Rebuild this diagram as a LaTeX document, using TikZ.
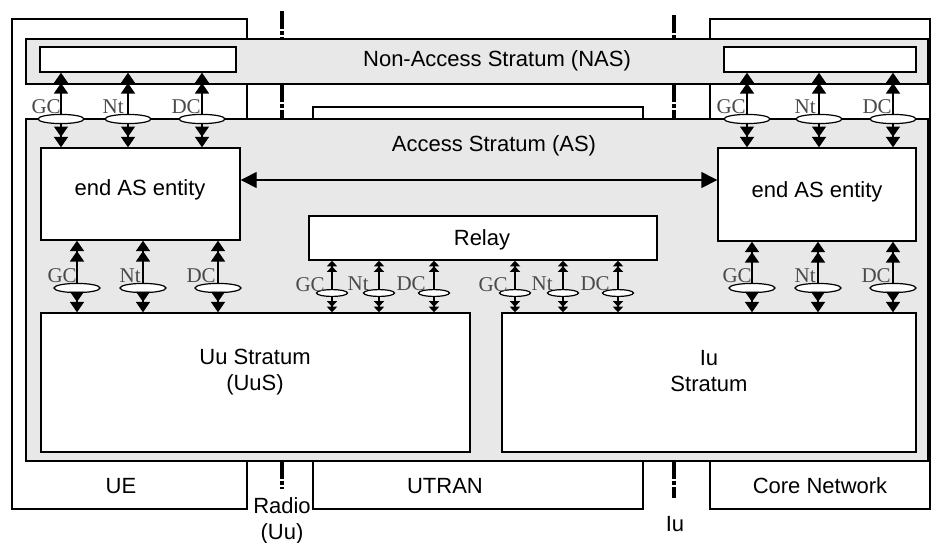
\documentclass[tikz,border=0pt]{standalone}
\usepackage{fontspec}
\setmainfont{Liberation Sans}
\newfontfamily\sapfont{Liberation Serif}
\usetikzlibrary{arrows.meta,shapes.geometric,fit}
\definecolor{strat}{HTML}{E8E8E8}
\definecolor{saptxt}{HTML}{4A4A4A}
\tikzset{
  >={Triangle[length=5.2pt,width=7pt]Triangle[length=5.2pt,width=7pt]},
  sm/.style={>={Triangle[length=2.8pt,width=5pt]Triangle[length=2.8pt,width=5pt]}},
  one/.style={>={Triangle[length=8pt,width=8pt]}},
  box/.style={draw,fill=white,inner sep=0pt},
  lay/.style={box,fill=strat},
  txt/.style={font=\fontsize{11}{13}\selectfont,inner sep=1pt,align=center},
  sap/.style={ellipse,draw,fill=white,minimum width=23pt,minimum height=4.6pt,inner sep=0pt,line width=0.6pt},
  ssap/.style={sap,minimum width=15.5pt,minimum height=3.4pt},
  lbl/.style={font=\sapfont\fontsize{10.5}{11}\selectfont,text=saptxt,inner sep=0.3pt},
  ifc/.style={line width=1.8pt,dash pattern=on 9pt off 1pt on 2pt off 1pt},
  every picture/.style={line width=0.7pt},
}
\begin{document}
\begin{tikzpicture}[x=0.5pt,y=-0.5pt]
\useasboundingbox (0,0) rectangle (933,542);
% domains
\node[box,fit={(12,19) (247,509)}] (UE){}; \node[box,fit={(313,107) (643,509)}] (UTRAN){}; \node[box,fit={(710,19) (930,509)}] (CN){};
\node[txt] (UEt) at (121,486){UE}; \node[txt] (UTRANt) at (445,486){UTRAN}; \node[txt] (CNt) at (820,486){Core Network};
% strata
\node[lay,fit={(26,39) (928,84)}] (NAS){}; \node[txt] (NASt) at (497,61){Non-Access Stratum (NAS)};
\node[box,fit={(40,47) (236,72)}] (NASL){}; \node[box,fit={(724,47) (916,72)}] (NASR){};
\node[lay,fit={(26,119) (928,461)}] (AS){}; \node[txt] (ASt) at (494,146){Access Stratum (AS)};
\node[box,fit={(41,148) (240,240)}] (ENDL){}; \node[txt] (ENDLt) at (140,190){end AS entity};
\node[box,fit={(718,148) (916,241)}] (ENDR){}; \node[txt] (ENDRt) at (817,192){end AS entity};
\node[box,fit={(309,216) (657,260)}] (RELAY){}; \node[txt] (RELAYt) at (482,240){Relay};
\node[box,fit={(41,313) (470,452)}] (UUS){}; \node[txt] (UUSt) at (255,372){Uu Stratum\\(UuS)};
\node[box,fit={(502,313) (916,452)}] (IUS){}; \node[txt] (IUSt) at (709,371){Iu\\Stratum};
% interfaces
\draw[ifc] (282,11)--(282,39); \draw[ifc] (282,84)--(282,119); \draw[ifc] (282,461)--(282,489);
\draw[ifc] (674,15)--(674,39); \draw[ifc] (674,84)--(674,119); \draw[ifc] (674,461)--(674,498);
\node[txt] (RADIOt) at (282,521){Radio\\(Uu)}; \node[txt] (IUt) at (675,524){Iu};
\draw[one,<->] (ENDL.east|-0,180)--(ENDR.west|-0,180);
% SAPs NAS - end AS entity
\node[sap] (A1) at (61,119){}; \node[lbl,anchor=south east] (A1t) at (62,115){GC}; \draw[->] (A1)--(A1|-NASL.south); \draw[->] (A1)--(A1|-ENDL.north);
\node[sap] (A2) at (128,119){}; \node[lbl,anchor=south east] (A2t) at (125,115){Nt}; \draw[->] (A2)--(A2|-NASL.south); \draw[->] (A2)--(A2|-ENDL.north);
\node[sap] (A3) at (202,119){}; \node[lbl,anchor=south east] (A3t) at (202,115){DC}; \draw[->] (A3)--(A3|-NASL.south); \draw[->] (A3)--(A3|-ENDL.north);
\node[sap] (B1) at (747,119){}; \node[lbl,anchor=south east] (B1t) at (747,115){GC}; \draw[->] (B1)--(B1|-NASR.south); \draw[->] (B1)--(B1|-ENDR.north);
\node[sap] (B2) at (819,119){}; \node[lbl,anchor=south east] (B2t) at (817,115){Nt}; \draw[->] (B2)--(B2|-NASR.south); \draw[->] (B2)--(B2|-ENDR.north);
\node[sap] (B3) at (893,119){}; \node[lbl,anchor=south east] (B3t) at (893,115){DC}; \draw[->] (B3)--(B3|-NASR.south); \draw[->] (B3)--(B3|-ENDR.north);
% SAPs end AS entity - Uu / Iu
\node[sap] (C1) at (77,288){}; \node[lbl,anchor=south east] (C1t) at (78,284){GC}; \draw[->] (C1)--(C1|-ENDL.south); \draw[->] (C1)--(C1|-UUS.north);
\node[sap] (C2) at (143,288){}; \node[lbl,anchor=south east] (C2t) at (142,284){Nt}; \draw[->] (C2)--(C2|-ENDL.south); \draw[->] (C2)--(C2|-UUS.north);
\node[sap] (C3) at (218,288){}; \node[lbl,anchor=south east] (C3t) at (217,284){DC}; \draw[->] (C3)--(C3|-ENDL.south); \draw[->] (C3)--(C3|-UUS.north);
\node[sap] (D1) at (752,288){}; \node[lbl,anchor=south east] (D1t) at (753,284){GC}; \draw[->] (D1)--(D1|-ENDR.south); \draw[->] (D1)--(D1|-IUS.north);
\node[sap] (D2) at (818,288){}; \node[lbl,anchor=south east] (D2t) at (817,284){Nt}; \draw[->] (D2)--(D2|-ENDR.south); \draw[->] (D2)--(D2|-IUS.north);
\node[sap] (D3) at (893,288){}; \node[lbl,anchor=south east] (D3t) at (892,284){DC}; \draw[->] (D3)--(D3|-ENDR.south); \draw[->] (D3)--(D3|-IUS.north);
% SAPs Relay - Uu / Iu
\node[ssap] (E1) at (332,293){}; \node[lbl,anchor=south east] (E1t) at (326,293){GC}; \draw[sm,->] (E1)--(E1|-RELAY.south); \draw[sm,->] (E1)--(E1|-UUS.north);
\node[ssap] (E2) at (379,293){}; \node[lbl,anchor=south east] (E2t) at (370,292){Nt}; \draw[sm,->] (E2)--(E2|-RELAY.south); \draw[sm,->] (E2)--(E2|-UUS.north);
\node[ssap] (E3) at (434,293){}; \node[lbl,anchor=south east] (E3t) at (427,292){DC}; \draw[sm,->] (E3)--(E3|-RELAY.south); \draw[sm,->] (E3)--(E3|-UUS.north);
\node[ssap] (F1) at (515,293){}; \node[lbl,anchor=south east] (F1t) at (509,293){GC}; \draw[sm,->] (F1)--(F1|-RELAY.south); \draw[sm,->] (F1)--(F1|-IUS.north);
\node[ssap] (F2) at (563,293){}; \node[lbl,anchor=south east] (F2t) at (554,292){Nt}; \draw[sm,->] (F2)--(F2|-RELAY.south); \draw[sm,->] (F2)--(F2|-IUS.north);
\node[ssap] (F3) at (618,293){}; \node[lbl,anchor=south east] (F3t) at (611,292){DC}; \draw[sm,->] (F3)--(F3|-RELAY.south); \draw[sm,->] (F3)--(F3|-IUS.north);
\end{tikzpicture}
\end{document}
